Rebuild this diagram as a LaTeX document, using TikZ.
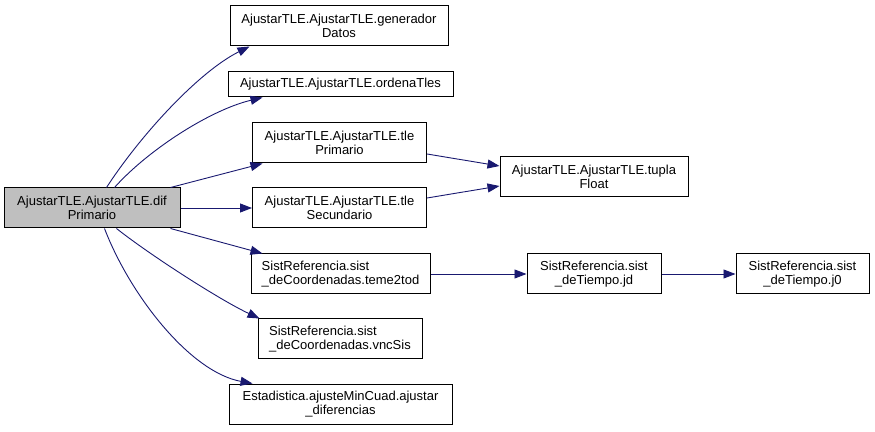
\documentclass[tikz,border=0pt]{standalone}
\usepackage{fontspec}
\setmainfont{Liberation Sans}
\usetikzlibrary{arrows.meta}
\definecolor{edgeblue}{HTML}{191970}
\definecolor{rootgray}{HTML}{BFBFBF}
\begin{document}
\begin{tikzpicture}[x=1pt,y=1pt,
  box/.style={draw=black, line width=1pt, inner sep=0pt, align=center,
    font=\fontsize{13}{14.5}\selectfont, minimum height=40pt},
  lbox/.style={box, align=left},
  conn/.style={draw=edgeblue, line width=0.9pt, -{Triangle[length=12pt,width=9pt]}}
]
\useasboundingbox (0,0) rectangle (875,431);
\node[box, fill=rootgray, minimum width=176pt] (root) at (92,223) {AjustarTLE.AjustarTLE.dif\\Primario};
\node[box, minimum width=218pt] (gen) at (339,405) {AjustarTLE.AjustarTLE.generador\\Datos};
\node[box, minimum width=225pt, minimum height=25pt] (ord) at (340.5,346.5) {AjustarTLE.AjustarTLE.ordenaTles};
\node[box, minimum width=174pt] (tleP) at (339.5,288) {AjustarTLE.AjustarTLE.tle\\Primario};
\node[box, minimum width=174pt] (tleS) at (339.5,223) {AjustarTLE.AjustarTLE.tle\\Secundario};
\node[lbox, minimum width=179pt] (teme) at (340.5,157) {SistReferencia.sist\\\_deCoordenadas.teme2tod};
\node[lbox, minimum width=164pt] (vnc) at (340,92) {SistReferencia.sist\\\_deCoordenadas.vncSis};
\node[box, minimum width=223pt] (ajs) at (340.5,27) {Estadistica.ajusteMinCuad.ajustar\\\_diferencias};
\node[box, minimum width=188pt] (tupla) at (594,254) {AjustarTLE.AjustarTLE.tupla\\Float};
\node[box, minimum width=134pt] (jd) at (594,157) {SistReferencia.sist\\\_deTiempo.jd};
\node[box, minimum width=133pt] (j0) at (802.5,157) {SistReferencia.sist\\\_deTiempo.j0};

\draw[conn] ([xshift=103pt]root.north west) .. controls (142,298) and (200,360) .. ([xshift=20pt]gen.south west);
\draw[conn] ([xshift=111pt]root.north west) .. controls (148,281) and (210,321) .. ([xshift=35pt]ord.south west);
\draw[conn] ([xshift=-10pt]root.north east) -- ([xshift=10.5pt]tleP.south west);
\draw[conn] (root.east) -- (tleS.west);
\draw[conn] ([xshift=-10pt]root.south east) -- ([xshift=12pt]teme.north west);
\draw[conn] ([xshift=113pt]root.south west) .. controls (150,176) and (220,131) .. ([xshift=2pt]vnc.north west);
\draw[conn] ([xshift=101pt]root.south west) .. controls (130,136) and (190,59) .. ([xshift=24pt]ajs.north west);
\draw[conn] ([yshift=-11pt]tleP.east) -- ([yshift=11pt]tupla.west);
\draw[conn] ([yshift=10pt]tleS.east) -- ([yshift=-9pt]tupla.west);
\draw[conn] (teme) -- (jd);
\draw[conn] (jd) -- (j0);
\end{tikzpicture}
\end{document}
